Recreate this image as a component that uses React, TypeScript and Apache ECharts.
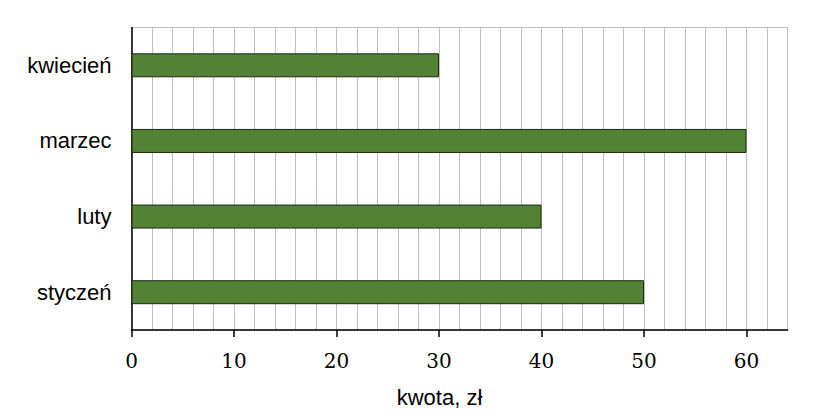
import React, { useEffect, useRef } from "react";
import * as echarts from "echarts";

const categories = ["styczeń", "luty", "marzec", "kwiecień"];
const values = [50, 40, 60, 30];
const xTicks = [0, 10, 20, 30, 40, 50, 60];

export default function App() {
  const ref = useRef<HTMLDivElement>(null);
  useEffect(() => {
    const chart = echarts.init(ref.current!, null, { renderer: "svg" });
    chart.setOption({
      animation: false,
      grid: {
        left: 131.5,
        right: 47.5,
        top: 27.5,
        bottom: 89,
        show: true,
        borderColor: "#bfbfbf",
        borderWidth: 1,
        containLabel: false,
      },
      xAxis: [
        {
          type: "value",
          min: 0,
          max: 64,
          interval: 2,
          position: "bottom",
          show: true,
          axisLine: { show: false },
          axisTick: { show: false },
          axisLabel: { show: false },
          splitLine: { show: true, lineStyle: { color: "#bfbfbf", width: 1 } },
        },
        {
          type: "value",
          min: 0,
          max: 64,
          interval: 2,
          position: "bottom",
          name: "kwota, zł",
          nameLocation: "middle",
          nameGap: 56,
          nameTextStyle: {
            fontFamily: "Liberation Sans",
            fontSize: 22,
            color: "#000",
            padding: [0, 40, 0, 0],
          },
          axisLine: { show: true, lineStyle: { color: "#000", width: 1.5 } },
          axisTick: {
            show: true,
            length: 7,
            inside: false,
            customValues: xTicks,
            lineStyle: { color: "#000", width: 1.5 },
          },
          axisLabel: {
            fontFamily: "DejaVu Serif",
            fontSize: 20,
            color: "#000",
            margin: 21,
            customValues: xTicks,
          },
          splitLine: { show: false },
        },
      ],
      yAxis: {
        type: "category",
        data: categories,
        axisLine: { show: true, lineStyle: { color: "#000", width: 1.5 } },
        axisTick: { show: false },
        axisLabel: {
          fontFamily: "Liberation Sans",
          fontSize: 22,
          color: "#000",
          margin: 20,
        },
        splitLine: { show: false },
      },
      series: [
        {
          type: "bar",
          xAxisIndex: 1,
          data: values,
          barWidth: 24,
          itemStyle: { color: "#548235", borderColor: "#1a2a10", borderWidth: 1 },
        },
      ],
    });
    return () => chart.dispose();
  }, []);
  return <div ref={ref} style={{ width: 835, height: 419, position: "absolute", left: 0, top: 0 }} />;
}
